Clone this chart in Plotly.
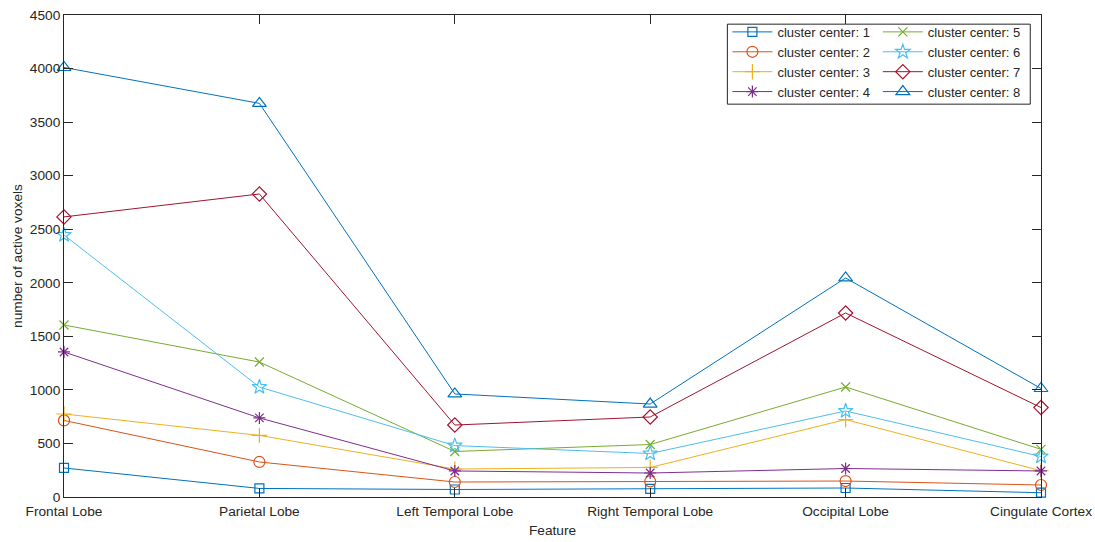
import plotly.graph_objects as go

features = ["Frontal Lobe", "Parietal Lobe", "Left Temporal Lobe",
            "Right Temporal Lobe", "Occipital Lobe", "Cingulate Cortex"]

c1 = [271, 80, 70, 75, 84, 40]
c2 = [715, 327, 140, 145, 149, 112]
c3 = [775, 575, 261, 276, 723, 245]
c4 = [1354, 738, 243, 224, 266, 243]
c5 = [1606, 1260, 425, 490, 1027, 445]
c6 = [2446, 1027, 480, 406, 803, 378]
c7 = [2615, 2829, 672, 747, 1718, 835]
c8 = [4010, 3675, 962, 868, 2045, 1013]

series = [c1, c2, c3, c4, c5, c6, c7, c8]
names = ["cluster center: %d" % i for i in range(1, 9)]
colors = ["#0072BD", "#D95319", "#EDB120", "#7E2F8E",
          "#77AC30", "#4DBEEE", "#A2142F", "#0072BD"]
symbols = ["square-open", "circle-open", "cross-thin-open", "asterisk-open",
           "x-thin-open", "star-open", "diamond-open", "triangle-up-open"]
sizes = [9, 11, 11, 10, 9, 11, 11, 12]

fig = go.Figure()
for i, (vals, nm, col, sym, sz) in enumerate(zip(series, names, colors, symbols, sizes)):
    fig.add_trace(go.Scatter(
        x=features, y=vals, name=nm, mode="lines+markers",
        line=dict(color=col, width=1),
        marker=dict(symbol=sym, size=sz, color=col, line=dict(color=col, width=1.2)),
        cliponaxis=False,
        legend="legend" if i < 4 else "legend2",
    ))

axcol = "#262626"
font = dict(family="Liberation Sans, Arial, sans-serif", size=13.7, color=axcol)
lfont = dict(family="Liberation Sans, Arial, sans-serif", size=13, color=axcol)

fig.update_layout(
    width=1095, height=542,
    margin=dict(l=64, r=54, t=15, b=45),
    paper_bgcolor="white", plot_bgcolor="white",
    font=font,
    xaxis=dict(type="category", range=[0, 5], showline=True, linecolor=axcol, linewidth=1,
               mirror="ticks", ticks="inside", ticklen=9, tickcolor=axcol,
               showgrid=False, zeroline=False, tickfont=font, ticklabelstandoff=2,
               automargin=False,
               title=dict(text="Feature", font=font, standoff=6)),
    yaxis=dict(range=[0, 4500], dtick=500, showline=True, linecolor=axcol, linewidth=1,
               mirror="ticks", ticks="inside", ticklen=9, tickcolor=axcol,
               showgrid=False, zeroline=False, tickfont=font, automargin=False,
               title=dict(text="number of active voxels", font=font, standoff=4)),
    legend=dict(x=0.679, y=0.996, xanchor="left", yanchor="top",
                bgcolor="rgba(0,0,0,0)", borderwidth=0, itemwidth=40,
                font=lfont, tracegroupgap=0),
    legend2=dict(x=0.833, y=0.996, xanchor="left", yanchor="top",
                 bgcolor="rgba(0,0,0,0)", borderwidth=0, itemwidth=40,
                 font=lfont, tracegroupgap=0),
    shapes=[dict(type="rect", xref="paper", yref="paper",
                 x0=0.679, x1=0.989, y0=0.815, y1=0.981,
                 line=dict(color=axcol, width=1), fillcolor="white", layer="above")],
)

fig.write_html("out.html")
